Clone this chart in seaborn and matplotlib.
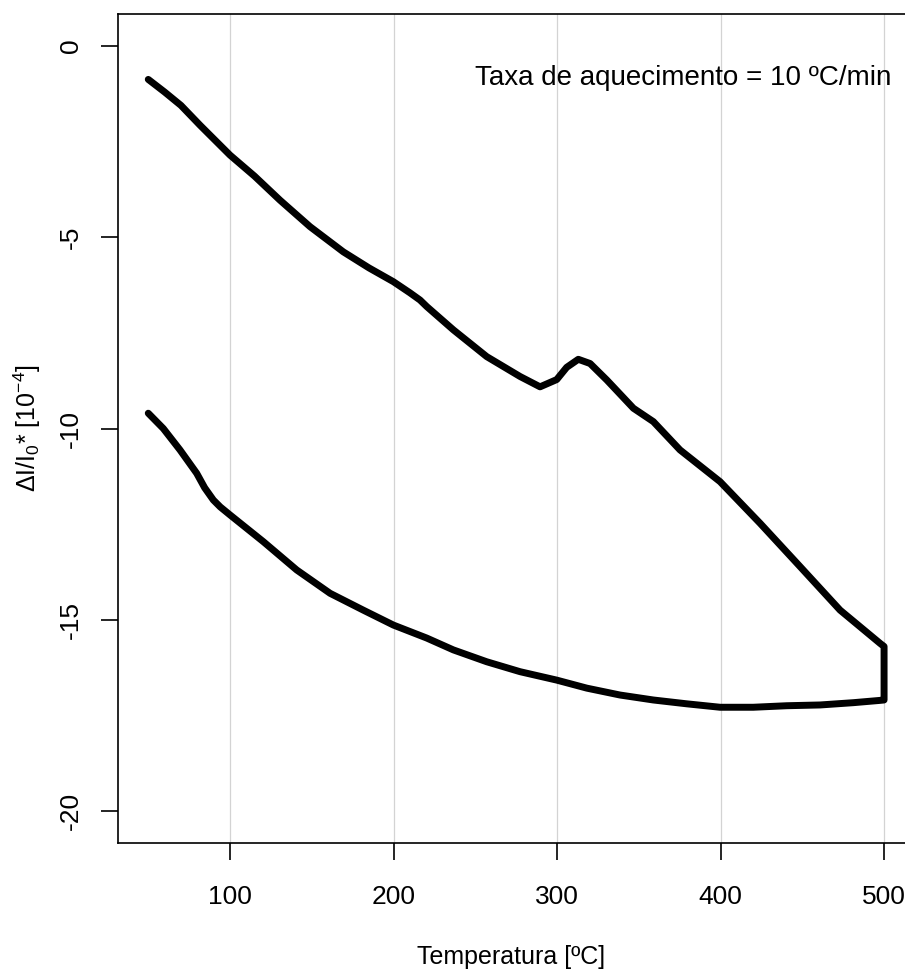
import matplotlib
matplotlib.use("Agg")
import matplotlib.pyplot as plt
import numpy as np
import pandas as pd
import seaborn as sns

# heating run, 50 -> 500 ºC
heat_temp = [50, 60, 70, 81.7, 100, 115, 130.6, 148.9, 169.3, 185, 199.9, 210, 216.2,
             220.3, 236.6, 257, 277.4, 289.6, 299.8, 305.9, 313, 320.2, 330.4, 346.7,
             358.9, 375.2, 399.7, 424.2, 448.6, 473.1, 497.6, 500]
heat_signal = [-0.87, -1.2, -1.55, -2.07, -2.85, -3.4, -4.03, -4.72, -5.38, -5.8, -6.16,
               -6.45, -6.64, -6.81, -7.42, -8.12, -8.64, -8.91, -8.72, -8.40, -8.19,
               -8.30, -8.73, -9.47, -9.82, -10.56, -11.39, -12.48, -13.61, -14.75,
               -15.62, -15.70]

# cooling run, 500 -> 50 ºC
cool_temp = [500, 497.6, 481.3, 460.9, 440.5, 420, 399.7, 379.3, 358.9, 338.5, 318.2,
             299.8, 277.4, 257, 236.6, 220.3, 199.9, 181.5, 161.2, 140.8, 120.4, 100,
             94, 89.8, 84.5, 79.6, 69.4, 59.2, 50]
cool_signal = [-17.10, -17.11, -17.17, -17.23, -17.25, -17.29, -17.29, -17.20, -17.10,
               -16.97, -16.79, -16.58, -16.36, -16.10, -15.79, -15.48, -15.14, -14.75,
               -14.31, -13.70, -12.96, -12.26, -12.05, -11.87, -11.55, -11.17, -10.56,
               -10.0, -9.60]

x_ticks = [100, 200, 300, 400, 500]
y_ticks = [0, -5, -10, -15, -20]

df = pd.DataFrame({
    "temp": heat_temp + cool_temp,
    "signal": heat_signal + cool_signal,
})

sns.set_style("white")
plt.rcParams["font.family"] = ["Liberation Sans", "DejaVu Sans"]
plt.rcParams["mathtext.fontset"] = "custom"
plt.rcParams["mathtext.rm"] = "Liberation Sans"
plt.rcParams["mathtext.it"] = "Liberation Sans"
plt.rcParams["text.color"] = "black"
plt.rcParams["axes.labelcolor"] = "black"

fig = plt.figure(figsize=(9.05, 9.74), dpi=100)
ax = fig.add_axes([0.1304, 0.1345, 0.8696, 0.8511])

for x in x_ticks:
    ax.axvline(x, color="#d3d3d3", lw=0.9, zorder=0)

sns.lineplot(data=df, x="temp", y="signal", sort=False, estimator=None,
             color="black", lw=5.0, ax=ax, solid_capstyle="round",
             solid_joinstyle="round")

ax.set_xlim(31.5, 512.8)
ax.set_ylim(-20.84, 0.84)
ax.set_xticks(x_ticks)
ax.set_yticks(y_ticks)
ax.set_yticklabels([str(v) for v in y_ticks], rotation=90, va="center")
ax.tick_params(axis="both", direction="out", length=12, width=1.2,
               labelsize=19, color="black", labelcolor="black",
               bottom=True, left=True)
ax.tick_params(axis="x", pad=18)
ax.tick_params(axis="y", pad=13)

for side in ["left", "bottom", "top"]:
    ax.spines[side].set_color("black")
    ax.spines[side].set_linewidth(1.2)
ax.spines["right"].set_visible(False)

ax.set_xlabel("Temperatura [ºC]", fontsize=18, labelpad=26)
ax.set_ylabel(r"$\Delta$I/I$_0$* [10$^{-4}$]", fontsize=18, labelpad=12)

ax.text(504.3, -0.84, "Taxa de aquecimento = 10 ºC/min", fontsize=20,
        ha="right", va="center")

fig.savefig("out.png", dpi=100)
